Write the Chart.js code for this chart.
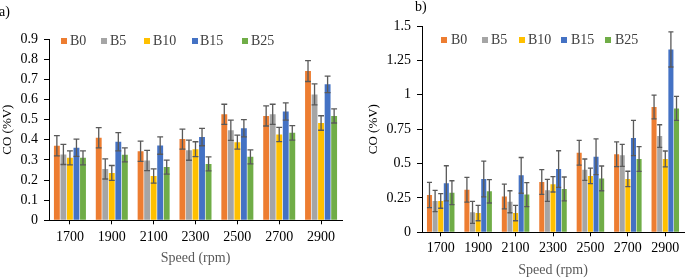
<!DOCTYPE html>
<html>
<head>
<meta charset="utf-8">
<script src="https://cdn.jsdelivr.net/npm/chart.js@4.4.1/dist/chart.umd.min.js"></script>
<style>
  html, body { margin:0; padding:0; background:#fff; }
  body { width:685px; height:279px; position:relative; overflow:hidden; font-family:'Liberation Serif','Times New Roman',serif; }
  .panel { position:absolute; top:0; }
  .lbl { position:absolute; font-size:14px; color:#000; line-height:14px; }
  .leg { position:absolute; font-size:14px; color:#404040; line-height:14px; white-space:nowrap; }
  .sw { position:absolute; width:6px; height:6px; }
</style>
</head>
<body>
<canvas id="ca" class="panel" width="345" height="279" style="left:0;"></canvas>
<canvas id="cb" class="panel" width="340" height="279" style="left:345px;"></canvas>
<div class="lbl" style="left:-1px;top:5px;">a)</div>
<div class="lbl" style="left:415px;top:0px;">b)</div>
<div id="legA"></div>
<div id="legB"></div>
<script>
// ---------- DATA ----------
const speeds = ['1700','1900','2100','2300','2500','2700','2900'];
const seriesNames = ['B0','B5','B10','B15','B25'];
const seriesColors = ['#ED7D31','#A5A5A5','#FFC000','#4472C4','#70AD47'];

// Panel a) values
const aB0  = [0.370, 0.410, 0.343, 0.403, 0.526, 0.518, 0.741];
const aB5  = [0.327, 0.255, 0.297, 0.348, 0.447, 0.526, 0.625];
const aB10 = [0.310, 0.235, 0.220, 0.353, 0.388, 0.426, 0.483];
const aB15 = [0.360, 0.390, 0.371, 0.413, 0.457, 0.540, 0.675];
const aB25 = [0.310, 0.325, 0.264, 0.280, 0.315, 0.434, 0.518];
// Panel a) error bars
const aErrB0  = [0.050, 0.050, 0.050, 0.050, 0.050, 0.050, 0.052];
const aErrB5  = [0.050, 0.050, 0.050, 0.050, 0.050, 0.050, 0.052];
const aErrB10 = [0.035, 0.037, 0.035, 0.037, 0.035, 0.035, 0.036];
const aErrB15 = [0.043, 0.045, 0.043, 0.043, 0.043, 0.043, 0.041];
const aErrB25 = [0.035, 0.035, 0.035, 0.035, 0.035, 0.036, 0.035];
const aTicks = [0, 0.1, 0.2, 0.3, 0.4, 0.5, 0.6, 0.7, 0.8, 0.9];

// Panel b) values
const bB0  = [0.271, 0.310, 0.260, 0.366, 0.579, 0.567, 0.911];
const bB5  = [0.228, 0.145, 0.222, 0.305, 0.455, 0.560, 0.700];
const bB10 = [0.228, 0.140, 0.140, 0.349, 0.410, 0.388, 0.533];
const bB15 = [0.356, 0.388, 0.414, 0.460, 0.550, 0.686, 1.330];
const bB25 = [0.288, 0.298, 0.274, 0.315, 0.392, 0.533, 0.901];
// Panel b) error bars
const bErrB0  = [0.092, 0.090, 0.090, 0.090, 0.090, 0.090, 0.087];
const bErrB5  = [0.077, 0.080, 0.080, 0.080, 0.078, 0.080, 0.082];
const bErrB10 = [0.053, 0.056, 0.056, 0.056, 0.056, 0.056, 0.058];
const bErrB15 = [0.128, 0.130, 0.130, 0.133, 0.130, 0.128, 0.128];
const bErrB25 = [0.087, 0.085, 0.087, 0.087, 0.090, 0.090, 0.087];
const bTicks = [0, 0.25, 0.5, 0.75, 1, 1.25, 1.5];

const xTitle = 'Speed (rpm)';
const yTitle = 'CO (%V)';
// ---------------------------

const FONT = "'Liberation Serif','Times New Roman',serif";

const errorBarPlugin = {
  id: 'errbars',
  afterDatasetsDraw(chart) {
    const ctx = chart.ctx;
    const ys = chart.scales.y;
    chart.data.datasets.forEach((ds, i) => {
      const meta = chart.getDatasetMeta(i);
      meta.data.forEach((bar, j) => {
        const v = ds.data[j], e = ds.errors[j];
        const x = bar.x;
        const yt = ys.getPixelForValue(v + e);
        const yb = ys.getPixelForValue(v - e);
        const hw = Math.max(2.5, bar.width * 0.5);
        ctx.save();
        ctx.strokeStyle = '#595959';
        ctx.lineWidth = 1.3;
        ctx.beginPath();
        ctx.moveTo(x, yt); ctx.lineTo(x, yb);
        ctx.moveTo(x - hw, yt); ctx.lineTo(x + hw, yt);
        ctx.moveTo(x - hw, yb); ctx.lineTo(x + hw, yb);
        ctx.stroke();
        ctx.restore();
      });
    });
  }
};

function makeChart(id, vals, errs, ticks, opt) {
  const datasets = seriesNames.map((n, i) => ({
    label: n,
    data: vals[i],
    errors: errs[i],
    backgroundColor: seriesColors[i],
    borderWidth: 0,
    categoryPercentage: opt.catPct,
    barPercentage: opt.barPct
  }));
  return new Chart(document.getElementById(id), {
    type: 'bar',
    data: { labels: speeds, datasets },
    plugins: [errorBarPlugin],
    options: {
      responsive: false,
      animation: false,
      devicePixelRatio: 1,
      layout: { padding: opt.padding },
      plugins: { legend: { display: false }, tooltip: { enabled: false } },
      scales: {
        x: {
          grid: { display: true, drawOnChartArea: false, drawTicks: true, tickLength: 4, offset: false, color: '#000' },
          border: { display: true, color: '#000', width: 1 },
          ticks: { color: '#000', font: { family: FONT, size: 14 }, padding: opt.xTickPad, maxRotation: 0 },
          title: { display: true, text: xTitle, color: '#595959', font: { family: FONT, size: 14 }, padding: { top: 0, bottom: opt.xTitlePad } },
          afterFit: (s) => { s.height = opt.xHeight; }
        },
        y: {
          min: ticks[0],
          max: ticks[ticks.length - 1],
          afterBuildTicks: (s) => { s.ticks = ticks.map(v => ({ value: v })); },
          grid: { display: true, drawOnChartArea: false, drawTicks: true, tickLength: 5, color: '#000' },
          border: { display: true, color: '#000', width: 1 },
          ticks: { color: '#000', font: { family: FONT, size: 14 }, padding: opt.yTickPad, callback: (v) => String(v) },
          title: { display: true, text: yTitle, color: '#000', font: { family: FONT, size: 13 }, padding: { top: 0, bottom: 0 } },
          afterFit: (s) => { s.width = opt.yWidth; }
        }
      }
    }
  });
}

makeChart('ca',
  [aB0, aB5, aB10, aB15, aB25],
  [aErrB0, aErrB5, aErrB10, aErrB15, aErrB25],
  aTicks,
  { padding: { left: 0, top: 39, right: 3, bottom: 8 }, yWidth: 49, xHeight: 279 - 8 - 220.3,
    xTickPad: 5, yTickPad: 6, xTitlePad: 4, catPct: 0.78, barPct: 0.9 });

makeChart('cb',
  [bB0, bB5, bB10, bB15, bB25],
  [bErrB0, bErrB5, bErrB10, bErrB15, bErrB25],
  bTicks,
  { padding: { left: 21, top: 26, right: 1, bottom: 0 }, yWidth: 56, xHeight: 279 - 232.3,
    xTickPad: 4, yTickPad: 6, xTitlePad: 0, catPct: 0.75, barPct: 0.9 });

// HTML legends
function makeLegend(containerId, squareLefts, textLefts, yCenter) {
  const c = document.getElementById(containerId);
  seriesNames.forEach((n, i) => {
    const sw = document.createElement('div');
    sw.className = 'sw';
    sw.style.left = squareLefts[i] + 'px';
    sw.style.top = (yCenter - 3) + 'px';
    sw.style.background = seriesColors[i];
    c.appendChild(sw);
    const t = document.createElement('div');
    t.className = 'leg';
    t.style.left = textLefts[i] + 'px';
    t.style.top = (yCenter - 7) + 'px';
    t.textContent = n;
    c.appendChild(t);
  });
}
makeLegend('legA', [61, 101, 144, 192, 242], [70, 110, 153, 200, 251], 41);
makeLegend('legB', [441, 482, 519, 561, 605], [451, 491, 528, 571, 615], 40);
</script>
</body>
</html>
